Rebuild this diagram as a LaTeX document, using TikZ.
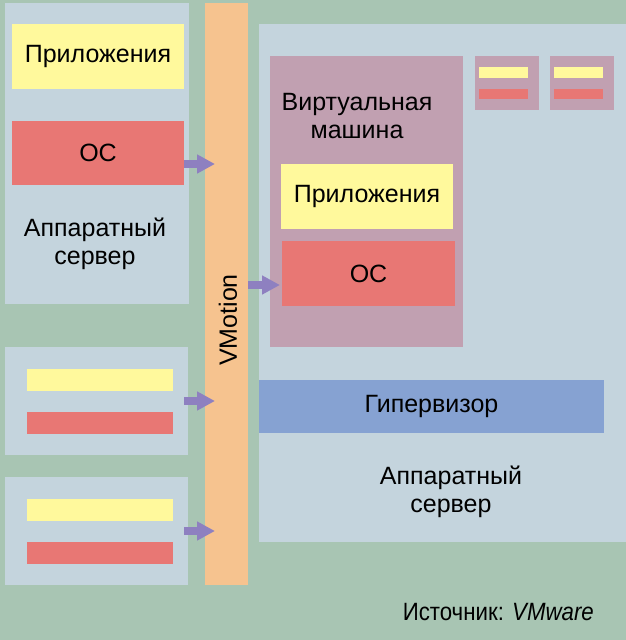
\documentclass[tikz,border=0pt]{standalone}
\usepackage{fontspec}
\setmainfont{Liberation Sans}
\usepackage{xcolor}
\usetikzlibrary{arrows.meta}

\definecolor{bgGreen}{HTML}{A8C5B3}
\definecolor{srvBlue}{HTML}{C4D4DD}
\definecolor{appYellow}{HTML}{FFF99C}
\definecolor{osRed}{HTML}{E87774}
\definecolor{vmMauve}{HTML}{C1A0B1}
\definecolor{vmoOrange}{HTML}{F6C38F}
\definecolor{hypBlue}{HTML}{86A2D2}
\definecolor{arrPurple}{HTML}{8E80C0}

\tikzset{
  blk/.style={inner sep=0pt, outer sep=0pt, minimum width=#1},
  blk/.default=172pt,
  server/.style={fill=srvBlue},
  app/.style={fill=appYellow},
  os/.style={fill=osRed},
  vmbox/.style={fill=vmMauve},
  mig/.style={draw=arrPurple, line width=8pt,
    -{Triangle[length=18pt,width=18pt]}},
  lbl/.style={align=center, inner sep=0pt}
}

\begin{document}
\begin{tikzpicture}[x=1pt, y=-1pt, font=\fontsize{25}{28}\selectfont]

%---------------- 外框 ----------------%
\useasboundingbox (0,0) rectangle (626,640);
\fill[bgGreen] (0,0) rectangle (626,640);

%---------------- 左側: 實體伺服器 ----------------%
\node[blk=184pt, minimum height=301pt, server] (srvA) at (97,153.5) {};
\node[blk, minimum height=65pt, app] (appA) at (98,56.5) {Приложения};
\node[blk, minimum height=64pt, os] (osA) at (98,153) {ОС};
\node[lbl] (srvAtxt) at (95,244) {Аппаратный\\сервер};

% 兩台小伺服器
\foreach \nm/\y in {B/401, C/531} {
  \node[blk=183pt, minimum height=108pt, server] (srv\nm) at (96.5,\y) {};
  \node[blk=146pt, minimum height=22pt, app] (app\nm) at (100,\y-21) {};
  \node[blk=146pt, minimum height=22pt, os] (os\nm) at (100,\y+22) {};
}

%---------------- VMotion ----------------%
\node[blk=43pt, minimum height=582pt, fill=vmoOrange] (vmotion) at (226.5,294) {};
\node[rotate=90, inner sep=0pt] (vmotionTxt) at (228,320) {VMotion};

%---------------- 右側: 虛擬化主機 ----------------%
\node[blk=367pt, minimum height=518pt, server] (host) at (442.5,283) {};
\node[blk=193pt, minimum height=291pt, vmbox] (vm) at (366.5,201.5) {};
\node[lbl] (vmTxt) at (357,116) {Виртуальная\\машина};
\node[blk, minimum height=65pt, app] (vmApp) at (367,196.5) {Приложения};
\node[blk=173pt, minimum height=65pt, os] (vmOs) at (368.5,273.5) {ОС};

% 小 VM
\foreach \nm/\x in {1/507, 2/582} {
  \node[blk=64pt, minimum height=54pt, vmbox] (vm\nm) at (\x,83) {};
  \node[blk=49pt, minimum height=11pt, app] (vmApp\nm) at (\x-3.5,72.5) {};
  \node[blk=49pt, minimum height=10pt, os] (vmOs\nm) at (\x-3.5,94) {};
}

\node[blk=345pt, minimum height=53pt, fill=hypBlue] (hyper) at (431.5,406.5) {Гипервизор};
\node[lbl] (hostTxt) at (451,492) {Аппаратный\\сервер};

%---------------- 遷移箭頭 ----------------%
\draw[mig, shorten >=-10pt] ([yshift=-11pt]osA.east) -- ([yshift=-11pt]osA.east -| vmotion.west);
\draw[mig, shorten <=-4pt, shorten >=-10pt] (srvB.east) -- (srvB.east -| vmotion.west);
\draw[mig, shorten <=-4pt, shorten >=-10pt] (srvC.east) -- (srvC.east -| vmotion.west);
\draw[mig, shorten >=2pt] ([yshift=-11.5pt]vmOs.west -| vmotion.east) -- ([yshift=-11.5pt]vmOs.west);

% 來源
\node[anchor=east, inner sep=0pt] (source) at (594,612) {\scalebox{0.89}[1]{Источник: \textit{VMware}}};

\end{tikzpicture}
\end{document}
